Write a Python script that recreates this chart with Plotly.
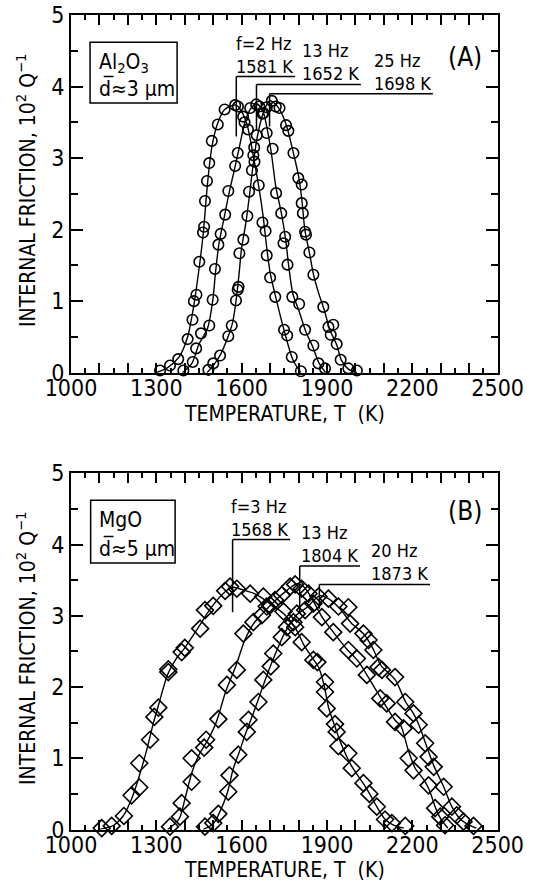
import plotly.graph_objects as go

FONT = "DejaVu Sans Condensed, Liberation Sans Narrow, DejaVu Sans, sans-serif"
W, H = 541, 892

# ---------------- Panel A: Al2O3 (circles) ----------------
a_freq_labels = ["f=2 Hz", "13 Hz", "25 Hz"]
a_peak_T = [1581, 1652, 1698]

a1_T = [1313, 1348, 1377, 1410, 1427, 1432, 1441, 1451, 1464, 1468, 1471, 1478, 1486, 1495, 1516, 1540, 1577, 1587,
        1605, 1622, 1645, 1660, 1673, 1684, 1688, 1700, 1718, 1749, 1760, 1776, 1808]
a1_Q = [0.03, 0.10, 0.19, 0.47, 0.74, 1.00, 1.09, 1.55, 1.96, 2.04, 2.40, 2.68, 2.93, 3.24, 3.47, 3.68, 3.74, 3.72,
        3.58, 3.40, 2.95, 2.62, 2.10, 1.98, 1.64, 1.33, 1.06, 0.60, 0.52, 0.22, 0.02]
a1_fit_T = [1300, 1340, 1380, 1410, 1430, 1450, 1465, 1480, 1495, 1515, 1540, 1581, 1600, 1620, 1640, 1660, 1675,
            1688, 1700, 1720, 1750, 1780, 1808]
a1_fit_Q = [0.0, 0.07, 0.22, 0.50, 0.90, 1.45, 1.95, 2.65, 3.15, 3.48, 3.68, 3.74, 3.65, 3.45, 3.05, 2.60, 2.20,
            1.75, 1.40, 1.05, 0.58, 0.18, 0.0]

a2_T = [1395, 1428, 1440, 1457, 1486, 1498, 1506, 1518, 1526, 1542, 1553, 1577, 1586, 1610, 1630, 1651, 1662, 1677,
        1688, 1709, 1721, 1739, 1747, 1753, 1761, 1778, 1802, 1823, 1852, 1870, 1893]
a2_Q = [0.03, 0.15, 0.34, 0.55, 0.66, 1.02, 1.45, 1.79, 1.94, 2.21, 2.54, 2.89, 3.07, 3.50, 3.70, 3.75, 3.72, 3.63,
        3.35, 3.13, 2.51, 2.23, 1.81, 1.90, 1.51, 1.06, 0.96, 0.60, 0.38, 0.13, 0.06]
a2_fit_T = [1392, 1425, 1450, 1480, 1498, 1508, 1520, 1540, 1555, 1575, 1590, 1610, 1630, 1652, 1675, 1690, 1705,
            1720, 1740, 1755, 1765, 1780, 1800, 1825, 1850, 1870, 1895]
a2_fit_Q = [0.0, 0.13, 0.40, 0.62, 1.0, 1.4, 1.8, 2.2, 2.5, 2.85, 3.12, 3.48, 3.68, 3.76, 3.65, 3.40, 3.05, 2.60,
            2.22, 1.85, 1.50, 1.10, 0.88, 0.58, 0.36, 0.15, 0.0]

a3_T = [1483, 1500, 1524, 1553, 1565, 1580, 1586, 1589, 1592, 1606, 1620, 1626, 1636, 1641, 1644, 1653, 1673, 1688,
        1706, 1720, 1733, 1756, 1764, 1782, 1799, 1811, 1811, 1815, 1823, 1826, 1838, 1852, 1887, 1905, 1913, 1922,
        1934, 1948, 1975, 2005]
a3_Q = [0.04, 0.13, 0.24, 0.51, 0.66, 1.01, 1.16, 1.20, 1.67, 1.86, 2.19, 2.53, 2.83, 3.04, 3.15, 3.32, 3.62, 3.71,
        3.80, 3.72, 3.70, 3.46, 3.38, 3.07, 2.72, 2.63, 2.37, 2.23, 1.97, 1.93, 1.68, 1.37, 0.92, 0.64, 0.53, 0.67,
        0.40, 0.18, 0.06, 0.03]
a3_fit_T = [1478, 1500, 1525, 1550, 1568, 1580, 1590, 1600, 1615, 1628, 1640, 1655, 1675, 1698, 1720, 1740, 1760,
            1780, 1800, 1812, 1822, 1838, 1852, 1870, 1890, 1910, 1935, 1950, 1975, 2005]
a3_fit_Q = [0.0, 0.10, 0.25, 0.48, 0.70, 1.0, 1.35, 1.75, 2.1, 2.5, 2.9, 3.3, 3.62, 3.80, 3.75, 3.63, 3.42, 3.10,
            2.75, 2.40, 2.0, 1.68, 1.38, 1.12, 0.88, 0.60, 0.38, 0.18, 0.05, 0.0]

# ---------------- Panel B: MgO (diamonds) ----------------
b_freq_labels = ["f=3 Hz", "13 Hz", "20 Hz"]
b_peak_T = [1568, 1804, 1873]

b1_T = [1108, 1143, 1186, 1213, 1240, 1240, 1278, 1293, 1307, 1342, 1342, 1389, 1400, 1454, 1471, 1500, 1542, 1559,
        1583, 1630, 1676, 1700, 1747, 1782, 1788, 1811, 1852, 1866, 1893, 1893, 1899, 1928, 1934, 1940, 1975, 1987,
        2028, 2049, 2075, 2104, 2128, 2175]
b1_Q = [0.02, 0.05, 0.19, 0.48, 0.59, 0.93, 1.26, 1.58, 1.71, 2.21, 2.25, 2.49, 2.55, 2.82, 3.08, 3.14, 3.35, 3.41,
        3.38, 3.31, 3.27, 3.15, 3.06, 2.91, 2.84, 2.63, 2.38, 2.35, 2.07, 1.93, 1.70, 1.48, 1.37, 1.17, 1.07, 0.86,
        0.65, 0.50, 0.32, 0.14, 0.09, 0.05]
b1_fit_T = [1100, 1150, 1185, 1215, 1240, 1265, 1290, 1310, 1340, 1370, 1400, 1450, 1490, 1540, 1568, 1600, 1650,
            1700, 1750, 1790, 1820, 1850, 1870, 1890, 1905, 1930, 1950, 1985, 2030, 2050, 2075, 2105, 2130, 2170]
b1_fit_Q = [0.0, 0.06, 0.20, 0.45, 0.75, 1.10, 1.50, 1.78, 2.18, 2.40, 2.55, 2.85, 3.10, 3.33, 3.40, 3.37, 3.30,
            3.17, 3.02, 2.82, 2.58, 2.40, 2.28, 2.02, 1.72, 1.42, 1.20, 0.90, 0.63, 0.50, 0.32, 0.14, 0.07, 0.02]

b2_T = [1348, 1383, 1389, 1424, 1424, 1468, 1475, 1518, 1548, 1583, 1606, 1641, 1671, 1688, 1717, 1741, 1770, 1788,
        1811, 1835, 1882, 1922, 1975, 2005, 2040, 2087, 2110, 2139, 2169, 2187, 2204, 2257, 2280, 2298, 2315]
b2_Q = [0.04, 0.18, 0.37, 0.67, 1.00, 1.15, 1.26, 1.55, 2.03, 2.24, 2.75, 2.91, 3.01, 3.13, 3.22, 3.29, 3.41, 3.44,
        3.38, 3.31, 2.98, 2.77, 2.52, 2.40, 2.17, 1.84, 1.77, 1.51, 1.42, 1.00, 0.83, 0.62, 0.30, 0.18, 0.06]
b2_fit_T = [1340, 1380, 1400, 1425, 1450, 1480, 1510, 1545, 1580, 1610, 1640, 1680, 1720, 1760, 1795, 1820, 1850,
            1880, 1920, 1970, 2010, 2040, 2090, 2140, 2160, 2185, 2210, 2240, 2260, 2280, 2300, 2325]
b2_fit_Q = [0.0, 0.15, 0.42, 0.80, 1.05, 1.25, 1.50, 1.95, 2.30, 2.65, 2.88, 3.06, 3.22, 3.36, 3.45, 3.40, 3.22,
            3.00, 2.78, 2.53, 2.36, 2.17, 1.84, 1.53, 1.45, 1.12, 0.86, 0.70, 0.55, 0.32, 0.15, 0.02]

b3_T = [1471, 1500, 1518, 1553, 1557, 1588, 1618, 1624, 1659, 1676, 1702, 1711, 1741, 1759, 1794, 1823, 1852, 1870,
        1905, 1940, 1975, 1981, 2028, 2046, 2063, 2081, 2093, 2139, 2175, 2204, 2222, 2245, 2257, 2275, 2310, 2339,
        2356, 2380, 2415]
b3_Q = [0.04, 0.09, 0.22, 0.53, 0.76, 1.05, 1.37, 1.54, 1.79, 2.10, 2.29, 2.47, 2.70, 2.84, 3.03, 3.08, 3.17, 3.27,
        3.24, 3.13, 3.12, 2.89, 2.75, 2.66, 2.52, 2.28, 2.24, 2.14, 1.79, 1.63, 1.47, 1.21, 1.02, 0.88, 0.60, 0.32,
        0.20, 0.11, 0.05]
b3_fit_T = [1465, 1500, 1520, 1550, 1570, 1590, 1615, 1640, 1665, 1690, 1720, 1750, 1790, 1830, 1873, 1905, 1945,
            1985, 2030, 2060, 2090, 2140, 2175, 2205, 2225, 2250, 2275, 2310, 2340, 2370, 2400, 2425]
b3_fit_Q = [0.0, 0.08, 0.22, 0.52, 0.85, 1.07, 1.36, 1.62, 1.90, 2.18, 2.48, 2.75, 3.00, 3.12, 3.28, 3.24, 3.10,
            2.90, 2.74, 2.55, 2.30, 2.10, 1.80, 1.62, 1.45, 1.17, 0.90, 0.60, 0.31, 0.14, 0.06, 0.02]

x_tick_vals = list(range(1000, 2501, 100))
x_tick_text = [str(v) if (v - 1000) % 300 == 0 else " " for v in x_tick_vals]
y_tick_vals = [0, 1, 2, 3, 4, 5]
y_tick_text = ["0", "1", "2", "3", "4", "5"]

fig = go.Figure()

def add_curve(T, Q, fT, fQ, symbol, size, xa, ya):
    fig.add_trace(go.Scatter(x=fT, y=fQ, mode="lines", line=dict(color="black", width=1.4, shape="spline",
                             smoothing=0.8), xaxis=xa, yaxis=ya, showlegend=False, hoverinfo="skip", cliponaxis=False))
    fig.add_trace(go.Scatter(x=T, y=Q, mode="markers", marker=dict(symbol=symbol, size=size, color="black",
                             line=dict(color="black", width=1.6)), xaxis=xa, yaxis=ya, showlegend=False,
                             cliponaxis=False))

add_curve(a1_T, a1_Q, a1_fit_T, a1_fit_Q, "circle-open", 10.5, "x", "y")
add_curve(a2_T, a2_Q, a2_fit_T, a2_fit_Q, "circle-open", 10.5, "x", "y")
add_curve(a3_T, a3_Q, a3_fit_T, a3_fit_Q, "circle-open", 10.5, "x", "y")
add_curve(b1_T, b1_Q, b1_fit_T, b1_fit_Q, "diamond-open", 13, "x2", "y2")
add_curve(b2_T, b2_Q, b2_fit_T, b2_fit_Q, "diamond-open", 13, "x2", "y2")
add_curve(b3_T, b3_Q, b3_fit_T, b3_fit_Q, "diamond-open", 13, "x2", "y2")

def xaxis(anchor):
    return dict(domain=[71 / W, 497.7 / W], anchor=anchor, range=[1000, 2500], showline=True, linecolor="black",
                linewidth=2, mirror="allticks", ticks="inside", ticklen=10, tickwidth=1.5, tickcolor="black",
                tickmode="array", tickvals=x_tick_vals, ticktext=x_tick_text, automargin=False, tickangle=0,
                ticklabelstandoff=-6,
                minor=dict(tick0=1000, dtick=50, ticks="inside", ticklen=5, tickwidth=1.5, tickcolor="black"),
                showgrid=False, zeroline=False, tickfont=dict(family=FONT, size=23, color="black"))

def yaxis(anchor, top_px, bot_px):
    return dict(domain=[1 - bot_px / H, 1 - top_px / H], anchor=anchor, range=[0, 5], showline=True,
                linecolor="black", linewidth=2, mirror="allticks", ticks="inside", ticklen=12, tickwidth=1.5,
                tickcolor="black", tickmode="array", tickvals=y_tick_vals, ticktext=y_tick_text, automargin=False,
                minor=dict(tick0=0, dtick=0.5, ticks="inside", ticklen=7, tickwidth=1.5, tickcolor="black"),
                showgrid=False, zeroline=False, tickfont=dict(family=FONT, size=23, color="black"))

fig.update_layout(
    width=W, height=H, autosize=False,
    margin=dict(l=0, r=0, t=0, b=0, pad=0, autoexpand=False), paper_bgcolor="white", plot_bgcolor="white",
    xaxis=xaxis("y"), yaxis=yaxis("x", 15, 372.7),
    xaxis2=xaxis("y2"), yaxis2=yaxis("x2", 473.3, 829.5),
)

ann = []
shapes = []

def P(px, py):
    return px / W, 1 - py / H

def txt(t, px, py, size, xanchor="center", angle=0):
    x, y = P(px, py)
    ann.append(dict(text=t, x=x, y=y, xref="paper", yref="paper", showarrow=False, xanchor=xanchor,
                    yanchor="middle", textangle=angle, font=dict(family=FONT, size=size, color="black")))

# axis titles
for (cx, cy) in [(284, 414), (284, 870)]:
    txt("TEMPERATURE, T  (K)", cx, cy, 21)
for (cx, cy) in [(26, 190), (26, 648)]:
    txt("INTERNAL FRICTION, 10<sup>2</sup> Q<sup>−1</sup>", cx, cy, 21, angle=-90)

# panel letters
txt("(A)", 465, 57, 26)
txt("(B)", 465, 511, 26)

# material boxes
shapes.append(dict(type="rect", xref="x", yref="y", x0=1067, x1=1373, y0=3.77, y1=4.62,
                   line=dict(color="black", width=1.5), fillcolor="white"))
shapes.append(dict(type="rect", xref="x2", yref="y2", x0=1069, x1=1366, y0=3.74, y1=4.62,
                   line=dict(color="black", width=1.5), fillcolor="white"))
txt("Al<sub>2</sub>O<sub>3</sub>", 97, 63, 21, xanchor="left")
txt("d\u0305\u22483 \u03bcm", 97, 88, 21, xanchor="left")
txt("MgO", 97, 520, 21, xanchor="left")
txt("d\u0305\u22485 \u03bcm", 97, 548, 21, xanchor="left")

# peak leader lines and labels
a_leader = [(3.30, 4.14, 1788), (3.39, 4.03, 2019), (3.44, 3.90, 2272)]
b_leader = [(3.05, 4.07, 1770), (3.03, 3.70, 2016), (3.10, 3.44, 2262)]
for xa, ya, peaks, freqs, leaders in [("x", "y", a_peak_T, a_freq_labels, a_leader),
                                       ("x2", "y2", b_peak_T, b_freq_labels, b_leader)]:
    for pT, fl, (yb, yt, xe) in zip(peaks, freqs, leaders):
        shapes.append(dict(type="line", xref=xa, yref=ya, x0=pT, x1=pT, y0=yb, y1=yt,
                           line=dict(color="black", width=1.5)))
        shapes.append(dict(type="line", xref=xa, yref=ya, x0=pT, x1=xe, y0=yt, y1=yt,
                           line=dict(color="black", width=1.5)))
        ann.append(dict(text=f"{fl}<br>{pT} K", x=xe, y=yt, xref=xa, yref=ya, xanchor="right", yanchor="bottom",
                        align="left", showarrow=False, yshift=-2,
                        font=dict(family=FONT, size=18, color="black")))

fig.update_layout(annotations=ann, shapes=shapes)
fig.write_html("out.html")
